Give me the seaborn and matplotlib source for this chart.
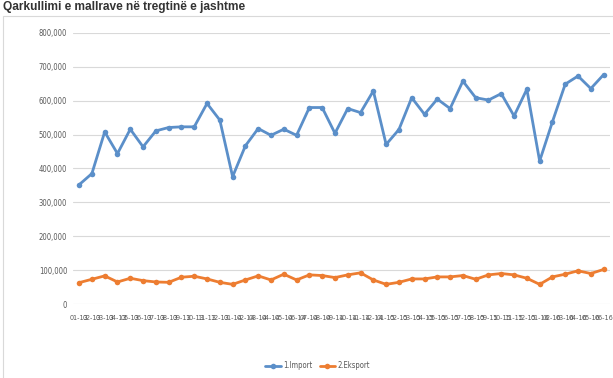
import pandas as pd
import seaborn as sns
import matplotlib.pyplot as plt
from matplotlib.patches import Rectangle
from matplotlib.lines import Line2D

# months 01-13 .. 06-16
months = ([f"{m:02d}-13" for m in range(1, 13)] + [f"{m:02d}-14" for m in range(1, 13)]
          + [f"{m:02d}-15" for m in range(1, 13)] + [f"{m:02d}-16" for m in range(1, 7)])

imports = [352000, 385000, 508000, 444000, 516000, 464000, 511000, 521000, 523000, 523000,
           592000, 543000, 376000, 467000, 518000, 498000, 516000, 498000, 580000, 580000,
           504000, 577000, 565000, 629000, 471000, 515000, 609000, 560000, 605000, 577000,
           658000, 609000, 602000, 621000, 555000, 634000, 422000, 538000, 649000, 673000,
           636000, 677000]

exports = [63000, 73000, 83000, 65000, 76000, 69000, 65000, 64000, 79000, 82000,
           74000, 64000, 58000, 71000, 83000, 71000, 88000, 71000, 86000, 84000,
           78000, 86000, 92000, 71000, 58000, 64000, 74000, 74000, 80000, 80000,
           84000, 73000, 86000, 90000, 86000, 76000, 58000, 80000, 88000, 98000,
           90000, 102000]

series_names = ["1.Import", "2.Eksport"]
colors = ["#5b8fc9", "#ed7d31"]


def main():
    df = pd.DataFrame({
        "idx": list(range(len(months))) * 2,
        "value": imports + exports,
        "series": [series_names[0]] * len(months) + [series_names[1]] * len(months),
    })

    sns.set_style("white")
    plt.rcParams["font.family"] = ["Liberation Sans", "DejaVu Sans"]

    fig = plt.figure(figsize=(6.13, 3.78), dpi=100)
    ax = fig.add_axes([72.7 / 613, 74 / 378, (610 - 72.7) / 613, (304 - 33) / 378])

    sns.lineplot(data=df, x="idx", y="value", hue="series", palette=colors,
                 marker="o", markersize=4, markeredgewidth=0, linewidth=2,
                 legend=False, ax=ax)

    ax.set_xlim(-0.5, len(months) - 0.5)
    ax.set_ylim(0, 800000)
    ax.set_yticks(range(0, 800001, 100000))
    ax.set_yticklabels(["0"] + [f"{v:,}" for v in range(100000, 800001, 100000)])
    ax.set_xticks(range(len(months)))
    ax.set_xticklabels(months)
    ax.tick_params(axis="y", labelsize=5.5, colors="#595959", length=0, pad=4)
    ax.tick_params(axis="x", labelsize=5.1, colors="#595959", length=0, pad=8)
    for lbl in ax.get_xticklabels() + ax.get_yticklabels():
        lbl.set_family("DejaVu Sans")
        lbl.set_stretch("condensed")
    ax.grid(axis="y", color="#d9d9d9", linewidth=0.8)
    ax.set_axisbelow(True)
    for s in ax.spines.values():
        s.set_visible(False)
    ax.set_xlabel("")
    ax.set_ylabel("")

    # chart frame
    fig.patches.append(Rectangle((2.5 / 613, -0.1), 1.2, 1 - 16 / 378 + 0.1,
                                 transform=fig.transFigure, fill=False,
                                 edgecolor="#d9d9d9", linewidth=0.8))

    fig.text(3 / 613, 1 - 7 / 378, "Qarkullimi e mallrave në tregtinë e jashtme",
             fontsize=8.6, fontweight="bold", color="#333333", va="center", ha="left")

    handles = [Line2D([0], [0], color=c, marker="o", markersize=4, markeredgewidth=0, linewidth=2)
               for c in colors]
    leg = fig.legend(handles, series_names, loc="center", bbox_to_anchor=(0.518, 12 / 378),
                     ncol=2, frameon=False, fontsize=5.5, handlelength=2, columnspacing=1,
                     handletextpad=0.3, labelcolor="#595959")
    for t in leg.get_texts():
        t.set_family("DejaVu Sans")
        t.set_stretch("condensed")

    fig.savefig("out.png", dpi=100)


if __name__ == "__main__":
    main()
